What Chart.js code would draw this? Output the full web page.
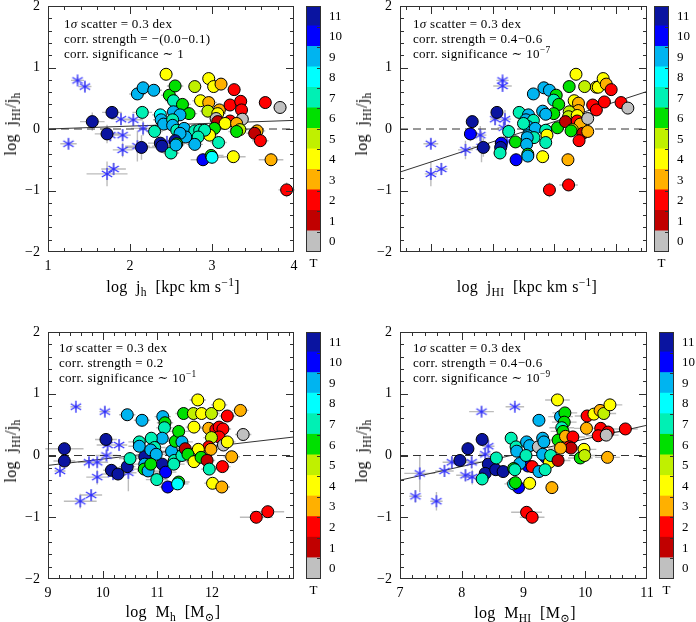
<!DOCTYPE html>
<html>
<head>
<meta charset="utf-8">
<script src="https://cdn.jsdelivr.net/npm/chart.js@4.4.1/dist/chart.umd.min.js"></script>
<style>
  body { margin: 0; background: #fff; }
  #fig { position: relative; width: 696px; height: 622px; overflow: hidden; font-family: "Liberation Serif", "DejaVu Serif", serif; color: #000; }
  #fig canvas { position: absolute; }
  .lbl { position: absolute; white-space: nowrap; font-size: 16px; line-height: 1; letter-spacing: 0.3px; }
  .note { position: absolute; white-space: nowrap; font-size: 13px; line-height: 15px; letter-spacing: 0.3px; }
  sub, sup { font-size: 72%; line-height: 0; }
  .box { position: absolute; box-sizing: border-box; border: 1px solid #303030; pointer-events: none; }
  .tick { position: absolute; background: #303030; pointer-events: none; }
</style>
</head>
<body>
<div id="fig"></div>
<script>
const FONT = '"Liberation Serif", "DejaVu Serif", serif';

// morphological type T -> colour, bottom (0) to top (11)
const tLabels = ['0', '1', '2', '3', '4', '5', '6', '7', '8', '9', '10', '11'];
const tColors = ['#c0c0c0', '#c00000', '#ff0000', '#ffb000', '#ffff00', '#c0f000',
                 '#00e000', '#00f0b4', '#00ffff', '#00b4f0', '#0000ff', '#0a14a0'];

// [x, log jHI/jh, T, xerr, yerr]
const p1Dots = [
  [2.44,0.89,4,.08,.06],[2.09,0.57,9,.1,.08],[2.16,0.67,9,.08,.06],[2.29,0.63,9,.1,.06],
  [2.15,0.27,7,.12,.1],[1.54,0.12,11,.15,.15],[1.78,0.27,11,.12,.1],[1.72,-0.08,11,.15,.15],
  [2.14,-0.30,11,.2,.2],[2.37,-0.23,11,.15,.1],[2.39,-0.28,11,.12,.1],[2.89,-0.50,10,.15,.1],
  [2.48,0.55,6,.1,.08],[2.55,0.70,6,.1,.08],[2.53,0.46,7,.1,.1],[2.64,0.40,6,.1,.1],
  [2.72,0.25,6,.1,.1],[2.79,0.69,5,.08,.06],[2.86,0.46,4,.1,.08],[2.96,0.82,4,.08,.06],
  [3.02,0.69,4,.08,.06],[3.11,0.73,3,.08,.06],[2.96,0.43,3,.1,.08],[2.95,0.29,5,.1,.08],
  [3.09,0.31,3,.1,.08],[3.07,0.25,4,.1,.08],[3.27,0.64,2,.08,.06],[3.22,0.39,2,.08,.08],
  [3.35,0.45,2,.08,.08],[3.36,0.31,2,.08,.08],[3.65,0.43,2,.08,.06],[3.83,0.35,0,.08,.06],
  [3.05,0.17,0,.08,.08],[3.37,0.16,0,.08,.08],[3.07,0.12,1,.1,.08],[3.22,0.13,2,.1,.08],
  [3.16,0.09,4,.1,.08],[3.30,0.09,3,.1,.08],[3.03,0.01,6,.1,.08],[3.34,-0.01,5,.1,.08],
  [3.30,-0.04,6,.1,.08],[3.55,-0.03,3,.1,.08],[3.52,-0.07,1,.1,.08],[3.59,-0.19,2,.1,.1],
  [2.97,-0.10,4,.1,.1],[3.08,-0.22,7,.1,.1],[2.99,-0.43,6,.15,.1],[3.00,-0.46,8,.15,.1],
  [3.26,-0.45,4,.15,.08],[3.72,-0.50,3,.15,.1],[3.91,-0.99,2,.1,.12],[2.50,-0.39,7,.1,.1],
  [2.37,0.23,8,.1,.1],[2.38,0.15,9,.1,.1],[2.41,0.08,9,.1,.1],[2.53,0.28,9,.1,.1],
  [2.61,0.23,9,.1,.1],[2.52,0.15,7,.1,.1],[2.52,0.06,9,.1,.1],[2.30,-0.04,7,.1,.1],
  [2.57,-0.02,7,.1,.1],[2.66,0.01,9,.1,.1],[2.79,-0.03,7,.1,.1],[2.85,-0.02,7,.1,.1],
  [2.91,-0.02,7,.1,.1],[2.83,-0.13,7,.1,.1],[2.79,-0.25,9,.1,.1],[2.68,-0.13,9,.1,.1],
  [2.61,-0.07,9,.1,.1],[2.55,-0.19,11,.1,.1],[2.57,-0.24,6,.1,.1],[2.56,-0.26,9,.1,.1]
];
// [x, y, xerr, yerr]
const p1Stars = [
  [1.36,0.79,.08,.06],[1.45,0.69,.08,.08],[1.25,-0.24,.1,.08],[1.89,0.16,.12,.1],
  [2.04,0.15,.12,.1],[2.16,0.01,.15,.12],[1.91,-0.10,.1,.1],[1.76,-0.10,.12,.1],
  [1.91,-0.34,.12,.12],[1.72,-0.73,.25,.2],[1.80,-0.65,.15,.1],[2.09,-0.28,.15,.25],
  [2.45,-0.21,.1,.1]
];
const p1Fit = [[1, 0.0], [4, 0.14]];

const p2Dots = [
  [1.67,0.12,11,.08,.1],[1.64,-0.08,10,.08,.12],[2.07,0.27,11,.08,.1],[1.85,-0.30,11,.12,.15],
  [2.14,-0.23,10,.1,.1],[2.13,-0.30,11,.1,.1],[2.38,-0.50,10,.08,.1],[2.43,0.27,7,.1,.1],
  [2.26,-0.04,7,.1,.1],[2.37,-0.21,6,.1,.1],[2.12,-0.39,7,.1,.1],[2.66,0.57,9,.08,.08],
  [2.83,0.67,9,.08,.06],[2.92,0.63,9,.08,.06],[3.03,0.55,6,.08,.08],[2.99,0.47,7,.08,.08],
  [3.07,0.40,6,.08,.08],[2.99,0.25,6,.08,.08],[2.81,0.29,9,.08,.08],[2.86,0.24,9,.08,.08],
  [2.58,0.23,9,.1,.1],[2.54,0.15,9,.1,.1],[2.66,0.14,7,.1,.1],[2.57,0.04,9,.1,.1],
  [2.69,0.01,9,.1,.1],[2.50,0.09,7,.1,.1],[2.86,-0.02,7,.1,.1],[2.88,-0.10,4,.1,.1],
  [2.86,-0.22,7,.1,.1],[2.57,-0.11,9,.1,.1],[2.67,-0.14,7,.1,.1],[2.56,-0.14,9,.1,.1],
  [2.55,-0.25,9,.1,.1],[2.57,-0.41,6,.1,.1],[2.57,-0.44,9,.1,.1],[2.81,-0.45,4,.1,.1],
  [3.05,0.02,6,.1,.1],[3.24,0.69,6,.08,.06],[3.35,0.89,4,.08,.06],[3.49,0.69,5,.08,.06],
  [3.32,0.46,4,.08,.08],[3.39,0.42,3,.08,.08],[3.39,0.30,3,.08,.08],[3.24,0.28,5,.08,.08],
  [3.23,0.20,5,.08,.08],[3.37,0.22,4,.08,.08],[3.18,0.12,1,.08,.08],[3.37,0.13,2,.08,.08],
  [3.42,0.08,3,.08,.08],[3.54,0.17,0,.08,.08],[3.29,-0.01,4,.08,.08],[3.27,-0.03,6,.08,.08],
  [3.46,-0.07,1,.08,.08],[3.54,-0.04,3,.08,.08],[3.40,-0.19,2,.08,.08],[3.22,-0.50,3,.08,.1],
  [2.92,-0.99,2,.08,.12],[3.23,-0.91,2,.15,.1],[3.68,0.68,4,.08,.06],[3.71,0.68,4,.08,.06],
  [3.79,0.82,4,.08,.06],[3.84,0.73,3,.08,.06],[3.92,0.64,2,.08,.06],[3.62,0.39,2,.08,.08],
  [3.68,0.31,2,.08,.08],[3.81,0.44,2,.08,.08],[4.08,0.43,2,.08,.06],[4.19,0.34,0,.08,.06]
];
const p2Stars = [
  [2.16,0.79,.1,.06],[2.16,0.70,.15,.08],[1.00,-0.24,.12,.08],[1.00,-0.73,.1,.2],
  [1.17,-0.65,.1,.1],[1.56,-0.34,.12,.15],[1.80,-0.10,.1,.15],[2.04,0.16,.08,.1],
  [2.20,0.16,.1,.15],[2.18,0.02,.1,.15],[1.82,-0.29,.15,.25],[2.23,-0.20,.1,.1]
];
const p2Fit = [[0.5, -0.70], [4.5, 0.61]];

const p3Dots = [
  [9.30,0.11,11,.35,.1],[9.30,-0.09,11,.2,.1],[10.06,0.26,11,.2,.1],[10.16,-0.24,11,.15,.1],
  [10.28,-0.30,11,.15,.1],[10.45,-0.18,11,.15,.1],[10.77,-0.02,11,.2,.1],[11.09,-0.14,11,.2,.1],
  [11.15,-0.27,10,.2,.1],[11.19,-0.51,10,.15,.1],[10.45,0.66,9,.15,.08],[10.72,0.57,9,.15,.08],
  [11.10,0.63,9,.15,.08],[11.14,0.53,6,.15,.08],[11.13,0.45,7,.15,.08],[11.09,0.28,9,.2,.1],
  [10.89,0.28,7,.2,.1],[10.67,0.22,7,.2,.1],[10.67,0.15,9,.2,.1],[10.95,0.13,7,.2,.1],
  [10.88,0.09,9,.2,.1],[10.98,0.02,9,.2,.1],[10.50,-0.05,7,.2,.1],[10.77,-0.14,9,.2,.1],
  [10.76,-0.22,6,.2,.1],[10.83,-0.25,9,.2,.1],[10.88,-0.14,6,.2,.1],[10.99,-0.39,7,.2,.1],
  [11.26,0.07,9,.2,.1],[11.33,0.23,6,.2,.1],[11.39,0.39,6,.2,.1],[11.45,0.22,9,.2,.1],
  [11.31,-0.08,7,.2,.1],[11.30,-0.14,7,.2,.1],[11.45,0.00,7,.2,.1],[11.39,-0.43,6,.2,.1],
  [11.37,-0.46,8,.2,.1],[11.48,0.68,6,.15,.08],[11.66,0.68,5,.15,.08],[11.74,0.90,4,.15,.08],
  [11.81,0.68,4,.15,.08],[11.99,0.68,5,.15,.08],[12.13,0.82,4,.15,.08],[12.28,0.64,2,.15,.08],
  [12.52,0.73,3,.15,.08],[12.57,0.34,0,.15,.08],[11.67,0.46,4,.15,.08],[11.94,0.44,3,.15,.08],
  [12.07,0.42,2,.15,.08],[12.13,0.46,2,.15,.08],[12.20,0.43,2,.15,.08],[12.13,0.30,2,.15,.08],
  [11.99,0.29,5,.15,.08],[12.21,0.17,0,.15,.08],[12.28,0.22,4,.15,.08],[11.94,0.14,2,.15,.08],
  [11.98,0.10,3,.15,.08],[11.75,0.10,4,.15,.08],[11.51,0.11,1,.15,.08],[11.56,0.02,6,.15,.08],
  [11.67,-0.10,4,.15,.08],[11.80,-0.03,6,.15,.08],[11.91,-0.08,1,.15,.08],[11.95,-0.22,7,.15,.08],
  [12.19,-0.18,2,.15,.08],[12.36,-0.02,3,.15,.08],[12.01,-0.45,4,.15,.08],[12.18,-0.51,3,.15,.08],
  [12.81,-1.00,2,.3,.1],[13.02,-0.91,2,.3,.1]
];
const p3Stars = [
  [9.51,0.79,.1,.05],[10.04,0.71,.1,.08],[9.22,-0.25,.1,.08],[9.59,-0.74,.3,.12],
  [9.79,-0.64,.2,.08],[9.75,-0.11,.2,.08],[9.90,-0.11,.2,.08],[9.90,-0.35,.2,.12],
  [10.09,0.17,.2,.08],[10.30,0.17,.15,.08],[10.07,0.00,.2,.08],[10.19,-0.30,.2,.1],
  [10.47,-0.28,.15,.3]
];
const p3Fit = [[9, -0.16], [13.5, 0.30]];

const p4Dots = [
  [7.97,-0.08,11,.15,.1],[8.10,0.11,11,.1,.1],[8.33,0.26,11,.1,.1],[8.43,-0.14,11,.1,.1],
  [8.38,-0.29,11,.1,.1],[8.55,-0.23,11,.1,.1],[8.67,-0.26,11,.1,.1],[8.92,-0.52,10,.1,.1],
  [9.07,-0.17,10,.1,.1],[9.36,-0.03,10,.1,.1],[8.33,-0.38,7,.1,.1],[8.56,-0.04,7,.1,.1],
  [8.80,0.28,7,.1,.1],[8.88,0.14,7,.1,.1],[8.89,0.07,9,.1,.1],[8.94,-0.13,9,.1,.1],
  [8.84,-0.21,6,.1,.1],[8.86,-0.23,7,.1,.1],[9.05,0.22,9,.1,.1],[9.10,0.16,9,.1,.1],
  [9.04,0.00,7,.1,.1],[9.14,-0.18,2,.1,.1],[9.24,0.14,0,.1,.1],[9.31,0.28,9,.1,.1],
  [9.33,0.22,9,.1,.1],[9.31,0.02,9,.1,.1],[9.42,-0.11,4,.1,.1],[9.25,-0.26,9,.1,.1],
  [9.35,-0.23,7,.1,.1],[9.44,0.00,7,.1,.1],[9.25,0.57,9,.1,.08],[8.84,-0.46,8,.15,.1],
  [8.87,-0.44,6,.15,.1],[9.10,-0.45,4,.1,.1],[9.46,-0.52,3,.1,.1],[9.05,-0.92,2,.25,.1],
  [9.14,-1.00,2,.2,.1],[9.55,0.90,4,.2,.08],[9.60,0.63,9,.2,.08],[9.67,0.69,6,.2,.08],
  [9.66,0.54,6,.2,.08],[9.62,0.45,7,.2,.08],[9.64,0.39,6,.2,.08],[9.56,0.25,6,.2,.08],
  [9.68,0.31,3,.2,.08],[9.80,0.30,2,.2,.08],[9.74,0.14,2,.2,.08],[9.77,0.12,1,.2,.08],
  [9.60,0.12,3,.2,.08],[9.56,-0.08,1,.2,.08],[9.98,0.10,4,.2,.08],[9.92,-0.04,6,.2,.08],
  [9.99,0.00,5,.2,.08],[10.02,0.44,3,.2,.08],[10.03,0.64,2,.2,.08],[10.14,0.67,4,.2,.08],
  [10.24,0.73,3,.2,.08],[10.30,0.68,5,.2,.08],[10.40,0.82,4,.2,.08],[10.25,0.44,2,.2,.08],
  [10.21,0.32,2,.2,.08],[10.37,0.38,2,.2,.08],[10.34,0.33,0,.2,.08],[10.65,0.43,2,.2,.08],
  [10.36,-0.03,3,.2,.08]
];
const p4Stars = [
  [8.32,0.71,.2,.08],[8.86,0.79,.15,.06],[7.32,-0.29,.25,.3],[7.25,-0.66,.1,.1],
  [7.59,-0.74,.1,.15],[7.72,-0.25,.15,.1],[7.84,-0.11,.15,.1],[8.16,-0.11,.15,.1],
  [8.06,-0.32,.15,.1],[8.17,-0.35,.15,.12],[8.43,0.15,.1,.1],[8.38,0.02,.1,.1],
  [8.83,-0.21,.1,.1]
];
const p4Fit = [[7, -0.40], [11, 0.49]];

const xRanges = [[1, 4], [0.5, 4.5], [9, 13.5], [7, 11]];
const yRange = [-2, 2];

const xTitles = [
  'log&nbsp; j<sub>h</sub>&nbsp; [kpc km s<sup>\u22121</sup>]',
  'log&nbsp; j<sub>HI</sub>&nbsp; [kpc km s<sup>\u22121</sup>]',
  'log&nbsp; M<sub>h</sub>&nbsp; [M<sub>\u2299</sub>]',
  'log&nbsp; M<sub>HI</sub>&nbsp; [M<sub>\u2299</sub>]'
];
const yTitle = 'log&nbsp; j<sub>HI</sub>/j<sub>h</sub>';
const strengths = ['\u2212(0.0\u22120.1)', '0.4\u22120.6', '0.2', '0.4\u22120.6'];
const signif = ['1', '10<sup>\u22127</sup>', '10<sup>\u22121</sup>', '10<sup>\u22129</sup>'];

// frame boxes in page pixels
const boxes = [
  { l: 48, t: 6, r: 294, b: 252, cb: 306, note: [64, 16], xt: [173, 287], yt: [11, 124] },
  { l: 400, t: 6, r: 647, b: 252, cb: 654, note: [413, 16], xt: [527, 287], yt: [362, 124] },
  { l: 48, t: 332, r: 294, b: 579, cb: 306, note: [59, 340], xt: [173, 612], yt: [11, 451] },
  { l: 400, t: 332, r: 647, b: 579, cb: 659, note: [413, 340], xt: [525, 613], yt: [362, 451] }
];

const fig = document.getElementById('fig');
Chart.defaults.color = '#000';
Chart.defaults.font.family = FONT;

function asterisk() {
  const c = document.createElement('canvas');
  c.width = c.height = 14;
  const g = c.getContext('2d');
  g.strokeStyle = '#2f2fff';
  g.lineWidth = 1.3;
  g.beginPath();
  for (let i = 0; i < 3; i++) {
    const a = Math.PI / 2 + i * Math.PI / 3;
    g.moveTo(7 + 6 * Math.cos(a), 7 + 6 * Math.sin(a));
    g.lineTo(7 - 6 * Math.cos(a), 7 - 6 * Math.sin(a));
  }
  g.stroke();
  return c;
}
const starImg = asterisk();

function fmt(v) {
  return v < 0 ? '\u2212' + Math.abs(v) : String(v);
}

// error bars (grey crosses) drawn beneath the markers
const errorBars = {
  id: 'errorBars',
  beforeDatasetsDraw(chart) {
    const ctx = chart.ctx, xs = chart.scales.x, ys = chart.scales.y;
    ctx.save();
    ctx.strokeStyle = '#bcbcbc';
    ctx.lineWidth = 1.4;
    ctx.beginPath();
    chart.data.datasets.forEach(ds => {
      ds.data.forEach(p => {
        if (p.ex === undefined) return;
        const px = xs.getPixelForValue(p.x), py = ys.getPixelForValue(p.y);
        ctx.moveTo(xs.getPixelForValue(p.x - p.ex), py);
        ctx.lineTo(xs.getPixelForValue(p.x + p.ex), py);
        ctx.moveTo(px, ys.getPixelForValue(p.y - p.ey));
        ctx.lineTo(px, ys.getPixelForValue(p.y + p.ey));
      });
    });
    ctx.stroke();
    ctx.restore();
  }
};

function addCanvas(left, top, w, h) {
  const c = document.createElement('canvas');
  c.width = w; c.height = h;
  c.style.left = left + 'px'; c.style.top = top + 'px';
  c.style.width = w + 'px'; c.style.height = h + 'px';
  fig.appendChild(c);
  return c;
}

function addHtml(cls, html, left, top, extra) {
  const d = document.createElement('div');
  d.className = cls;
  d.innerHTML = html;
  d.style.left = left + 'px';
  d.style.top = top + 'px';
  if (extra) d.style.transform = extra;
  fig.appendChild(d);
  return d;
}

function addRect(cls, left, top, w, h) {
  const d = addHtml(cls, '', left, top);
  d.style.width = w + 'px';
  d.style.height = h + 'px';
}

function noPad(s) { s.paddingLeft = 0; s.paddingRight = 0; s.paddingTop = 0; s.paddingBottom = 0; }

// outline and inward ticks, positioned from the chart's own scales
function frameOverlay(chart, cl, ct) {
  const xs = chart.scales.x, ys = chart.scales.y;
  const L = cl + Math.round(xs.getPixelForValue(xs.min));
  const R = cl + Math.round(xs.getPixelForValue(xs.max)) - 1;
  const T = ct + Math.round(ys.getPixelForValue(ys.max));
  const B = ct + Math.round(ys.getPixelForValue(ys.min)) - 1;
  addRect('box', L, T, R - L + 1, B - T + 1);
  for (let k = Math.ceil(xs.min * 5 - 1e-6); k <= Math.floor(xs.max * 5 + 1e-6); k++) {
    const len = k % 5 === 0 ? 8 : 4;
    const px = cl + Math.round(xs.getPixelForValue(k / 5));
    if (px <= L || px >= R) continue;
    addRect('tick', px, T, 1, len);
    addRect('tick', px, B - len + 1, 1, len);
  }
  for (let k = Math.ceil(ys.min * 5 - 1e-6); k <= Math.floor(ys.max * 5 + 1e-6); k++) {
    const len = k % 5 === 0 ? 8 : 4;
    const py = ct + Math.round(ys.getPixelForValue(k / 5));
    if (py <= T || py >= B) continue;
    addRect('tick', L, py, len, 1);
    addRect('tick', R - len + 1, py, len, 1);
  }
}

function barOverlay(chart, cl, ct) {
  const xs = chart.scales.x, ys = chart.scales.y;
  const L = cl + Math.round(xs.left), R = cl + Math.round(xs.right) - 1;
  const T = ct + Math.round(ys.getPixelForValue(ys.max));
  const B = ct + Math.round(ys.getPixelForValue(ys.min)) - 1;
  addRect('box', L, T, R - L + 1, B - T + 1);
  for (let i = 1; i < tLabels.length; i++) {
    const py = ct + Math.round(ys.getPixelForValue(i));
    addRect('tick', R - 3, py, 3, 1);
  }
}

function scatterPanel(box, xr, dots, stars, fit) {
  const w = box.r - box.l + 54, h = box.b - box.t + 54;
  const cl = box.l - 48, ct = box.t - 6;
  const cv = addCanvas(cl, ct, w, h);
  const chart = new Chart(cv, {
    type: 'scatter',
    data: {
      datasets: [
        {
          data: dots.map(d => ({ x: d[0], y: d[1], ex: d[3], ey: d[4] })),
          pointRadius: 6,
          pointBackgroundColor: dots.map(d => tColors[d[2]]),
          pointBorderColor: '#000',
          pointBorderWidth: 1,
          order: 0
        },
        {
          data: stars.map(s => ({ x: s[0], y: s[1], ex: s[2], ey: s[3] })),
          pointStyle: starImg,
          pointRadius: 6,
          order: 1
        },
        {
          data: fit.map(f => ({ x: f[0], y: f[1] })),
          showLine: true,
          borderColor: '#333',
          borderWidth: 1,
          pointRadius: 0,
          order: 2
        },
        {
          data: [{ x: xr[0], y: 0 }, { x: xr[1], y: 0 }],
          showLine: true,
          borderColor: '#333',
          borderWidth: 1,
          borderDash: [8, 5],
          pointRadius: 0,
          order: 3
        }
      ]
    },
    options: {
      responsive: false,
      animation: false,
      devicePixelRatio: 1,
      layout: { autoPadding: false, padding: { top: 6, right: 6, left: 0, bottom: 0 } },
      plugins: { legend: { display: false }, tooltip: { enabled: false } },
      scales: {
        x: {
          type: 'linear', min: xr[0], max: xr[1],
          grid: { display: false, drawTicks: false }, border: { display: false },
          ticks: { stepSize: 1, padding: 6, maxRotation: 0, font: { size: 14 }, callback: fmt },
          afterBuildTicks: s => { s.ticks = s.ticks.filter(t => Math.abs(t.value - Math.round(t.value)) < 1e-9); },
          afterFit: s => { s.height = 48; noPad(s); }
        },
        y: {
          type: 'linear', min: yRange[0], max: yRange[1],
          grid: { display: false, drawTicks: false }, border: { display: false },
          ticks: { stepSize: 1, padding: 8, font: { size: 14 }, callback: fmt },
          afterFit: s => { s.width = 48; noPad(s); }
        }
      }
    },
    plugins: [errorBars]
  });
  frameOverlay(chart, cl, ct);
}

function colorBar(box) {
  const w = 15 + 30, h = box.b - box.t + 6 + 22;
  const cl = box.cb, ct = box.t - 6;
  const cv = addCanvas(cl, ct, w, h);
  const chart = new Chart(cv, {
    type: 'bar',
    data: {
      labels: ['T'],
      datasets: tColors.map(c => ({
        data: [1], backgroundColor: c, borderWidth: 0, inflateAmount: 1,
        categoryPercentage: 1, barPercentage: 1
      }))
    },
    options: {
      responsive: false,
      animation: false,
      devicePixelRatio: 1,
      layout: { autoPadding: false, padding: { top: 6, right: 0, left: 0, bottom: 0 } },
      plugins: { legend: { display: false }, tooltip: { enabled: false } },
      scales: {
        x: {
          stacked: true,
          grid: { display: false, drawTicks: false }, border: { display: false },
          ticks: { padding: 4, font: { size: 13 } },
          afterFit: s => { s.height = 22; noPad(s); }
        },
        y: {
          stacked: true, position: 'right', min: 0, max: tLabels.length,
          grid: { display: false, drawTicks: false }, border: { display: false },
          ticks: { padding: 8, font: { size: 13 }, callback: v => tLabels[Math.round(v - 0.5)] },
          afterBuildTicks: s => { s.ticks = tLabels.map((l, i) => ({ value: i + 0.5 })); },
          afterFit: s => { s.width = 30; noPad(s); }
        }
      }
    }
  });
  barOverlay(chart, cl, ct);
}

const allDots = [p1Dots, p2Dots, p3Dots, p4Dots];
const allStars = [p1Stars, p2Stars, p3Stars, p4Stars];
const allFits = [p1Fit, p2Fit, p3Fit, p4Fit];

boxes.forEach((box, i) => {
  scatterPanel(box, xRanges[i], allDots[i], allStars[i], allFits[i]);
  colorBar(box);
  addHtml('note',
    '1<i>\u03c3</i> scatter = 0.3 dex<br>corr. strength = ' + strengths[i] +
    '<br>corr. significance \u223c ' + signif[i],
    box.note[0], box.note[1]);
  addHtml('lbl', xTitles[i], box.xt[0], box.xt[1], 'translate(-50%, -50%)');
  addHtml('lbl', yTitle, box.yt[0], box.yt[1], 'translate(-50%, -50%) rotate(-90deg)');
});
</script>
</body>
</html>
